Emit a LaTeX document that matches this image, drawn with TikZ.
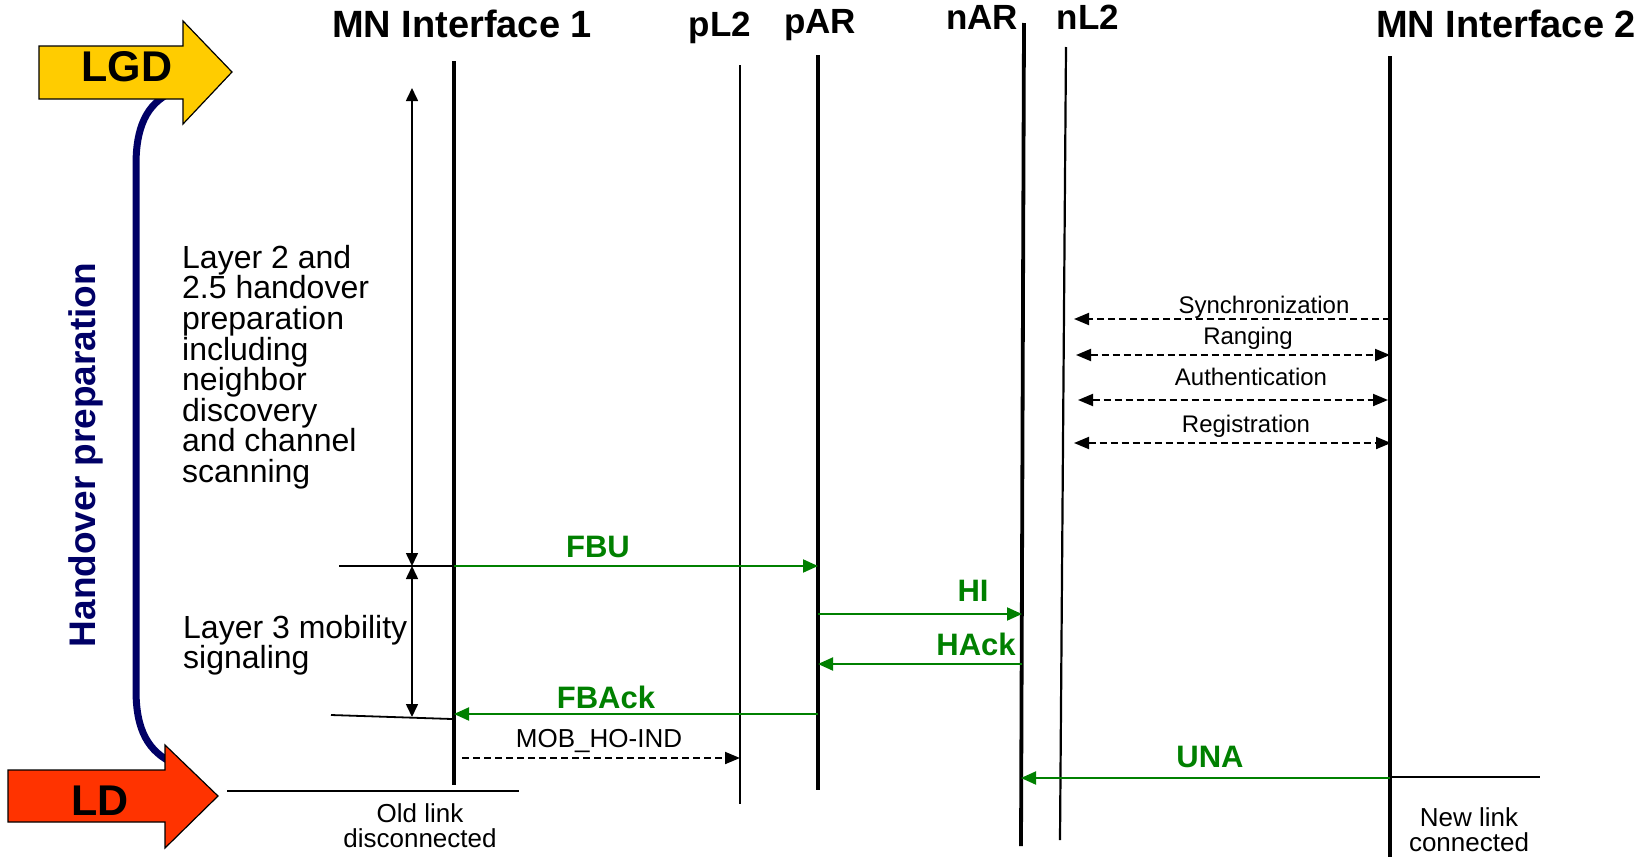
\documentclass[tikz,border=0pt]{standalone}
\usepackage{fontspec}
\setmainfont{Liberation Sans}
\usetikzlibrary{arrows.meta}
\definecolor{lgdyellow}{HTML}{FFCC00}
\definecolor{ldred}{HTML}{FF3300}
\definecolor{prepnavy}{HTML}{000066}
\definecolor{msggreen}{HTML}{008000}
\begin{document}
\begin{tikzpicture}[x=1pt,y=-1pt,
  lifethick/.style={line width=3.8pt},
  lifethin/.style={line width=2.2pt},
  hdr/.style={font=\fontsize{38}{40}\selectfont\bfseries, anchor=base, inner sep=0},
  hdrs/.style={font=\fontsize{35}{40}\selectfont\bfseries, anchor=base, inner sep=0},
  biglbl/.style={font=\fontsize{43}{45}\selectfont\bfseries, inner sep=0},
  msg/.style={draw=msggreen, line width=2pt, -{Triangle[length=15pt,width=13pt]}},
  msglbl/.style={text=msggreen, font=\fontsize{31}{33}\selectfont\bfseries, inner sep=0, anchor=base},
  sig/.style={line width=1.9pt, dash pattern=on 7pt off 4pt},
  siglbl/.style={font=\fontsize{24}{26}\selectfont, inner sep=0, anchor=base},
  tick/.style={line width=1.8pt},
  note/.style={font=\fontsize{26}{25}\selectfont, inner sep=0, align=center, anchor=north},
  body/.style={font=\fontsize{32}{30.6}\selectfont, inner sep=0, align=left, anchor=north west},
]
\useasboundingbox (0,0) rectangle (1644,857);

% ---- bracket for the preparation phase (drawn under the two phase arrows)
\draw[prepnavy, line width=7pt] (172,92) .. controls (146,104) and (136,128) .. (136,165)
  -- (136,690) .. controls (136,730) and (148,752) .. (175,764);

% ---- phase arrows
\filldraw[fill=lgdyellow, draw=black, line width=1.2pt]
  (39,46) -- (183,46) -- (183,21) -- (232,72) -- (183,124) -- (183,99) -- (39,99) -- cycle;
\node[biglbl] (lgd) at (127,67) {LGD};
\filldraw[fill=ldred, draw=black, line width=1.2pt]
  (8,770) -- (165,770) -- (165,745) -- (218,796) -- (165,848) -- (165,822) -- (8,822) -- cycle;
\node[biglbl] (ld) at (100,801) {LD};

\node[rotate=90, anchor=base, text=prepnavy, font=\fontsize{37}{40}\selectfont\bfseries, inner sep=0]
  (hprep) at (95,455) {Handover preparation};

% ---- lifelines
\coordinate (mn1t) at (454,61);  \coordinate (mn1b) at (454,785);
\coordinate (pl2t) at (740,65);  \coordinate (pl2b) at (740,804);
\coordinate (part) at (818,55);  \coordinate (parb) at (818,790);
\coordinate (nart) at (1024,23); \coordinate (narb) at (1021,846);
\coordinate (nl2t) at (1066,47); \coordinate (nl2b) at (1060,840);
\coordinate (mn2t) at (1390,56); \coordinate (mn2b) at (1390,857);
\draw[lifethick] (mn1t) -- (mn1b);
\draw[lifethin]  (pl2t) -- (pl2b);
\draw[lifethick] (part) -- (parb);
\draw[lifethick] (nart) -- (narb);
\draw[lifethin]  (nl2t) -- (nl2b);
\draw[lifethick] (mn2t) -- (mn2b);

% ---- headers
\node[hdr]  (h-mn1) at (462,37) {MN Interface 1};
\node[hdrs] (h-pl2) at (720,36) {pL2};
\node[hdrs] (h-par) at (820,33) {pAR};
\node[hdrs] (h-nar) at (982,29) {nAR};
\node[hdrs] (h-nl2) at (1088,29) {nL2};
\node[hdr]  (h-mn2) at (1506,37) {MN Interface 2};

% ---- phase descriptions
\node[body] (l2txt) at (182,245) {Layer 2 and\\2.5 handover\\preparation\\including\\neighbor\\discovery\\and channel\\scanning};
\node[body] (l3txt) at (183,615) {Layer 3 mobility\\signaling};

% ---- duration markers
\coordinate (d1t) at (412,88); \coordinate (d1b) at (412,566); \coordinate (d2b) at (412,717);
\draw[line width=1.6pt, {Triangle[length=13pt,width=12pt]}-{Triangle[length=13pt,width=12pt]}] (d1t) -- (d1b);
\draw[line width=1.6pt, {Triangle[length=13pt,width=12pt]}-{Triangle[length=13pt,width=12pt]}] (d1b) -- (d2b);
\coordinate (tk1) at (339,566);
\coordinate (tk2a) at (331,715); \coordinate (tk2b) at (452,719);
\coordinate (fbu-a) at (454,566); \coordinate (fbu-b) at (818,566);
\draw[tick] (tk1) -- (fbu-a);
\draw[tick] (tk2a) -- (tk2b);

% ---- link events
\coordinate (ol-a) at (227,791); \coordinate (ol-b) at (519,791);
\draw[tick] (ol-a) -- (ol-b);
\node[note] (oldl) at (420,803) {Old link\\disconnected};
\coordinate (nl-a) at (1390,777); \coordinate (nl-b) at (1540,777);
\draw[tick] (nl-a) -- (nl-b);
\node[note] (newl) at (1469,807) {New link\\connected};

% ---- layer 3 messages
\draw[msg] (fbu-a) -- (fbu-b);
\node[msglbl] (fbu) at (598,557) {FBU};
\coordinate (hi-a) at (818,614); \coordinate (hi-b) at (1022,614);
\draw[msg] (hi-a) -- (hi-b);
\node[msglbl] (hi) at (973,601) {HI};
\coordinate (hack-a) at (1022,664); \coordinate (hack-b) at (818,664);
\draw[msg] (hack-a) -- (hack-b);
\node[msglbl] (hack) at (976,655) {HAck};
\coordinate (fback-a) at (818,714); \coordinate (fback-b) at (454,714);
\draw[msg] (fback-a) -- (fback-b);
\node[msglbl] (fback) at (606,708) {FBAck};
\coordinate (una-a) at (1390,778); \coordinate (una-b) at (1021,778);
\draw[msg] (una-a) -- (una-b);
\node[msglbl] (una) at (1210,767) {UNA};

% ---- link layer signalling
\coordinate (mob-a) at (462,758); \coordinate (mob-b) at (740,758);
\draw[sig, -{Triangle[length=15pt,width=12pt]}] (mob-a) -- (mob-b);
\node[siglbl, font=\fontsize{26}{28}\selectfont] (mob) at (599,747) {MOB\_HO-IND};

\coordinate (syn-a) at (1390,319); \coordinate (syn-b) at (1074,319);
\draw[sig, -{Triangle[length=15pt,width=12pt]}] (syn-a) -- (syn-b);
\node[siglbl] (syn) at (1264,313) {Synchronization};
\coordinate (rng-a) at (1076,355); \coordinate (rng-b) at (1390,355);
\draw[sig, {Triangle[length=15pt,width=12pt]}-{Triangle[length=15pt,width=12pt]}] (rng-a) -- (rng-b);
\node[siglbl] (rng) at (1248,344) {Ranging};
\coordinate (ath-a) at (1078,400); \coordinate (ath-b) at (1388,400);
\draw[sig, {Triangle[length=15pt,width=12pt]}-{Triangle[length=15pt,width=12pt]}] (ath-a) -- (ath-b);
\node[siglbl] (ath) at (1251,385) {Authentication};
\coordinate (reg-a) at (1074,443); \coordinate (reg-b) at (1391,443);
\draw[sig, {Triangle[length=15pt,width=12pt]}-{Triangle[length=15pt,width=12pt]}] (reg-a) -- (reg-b);
\node[siglbl] (reg) at (1246,432) {Registration};
\end{tikzpicture}
\end{document}
